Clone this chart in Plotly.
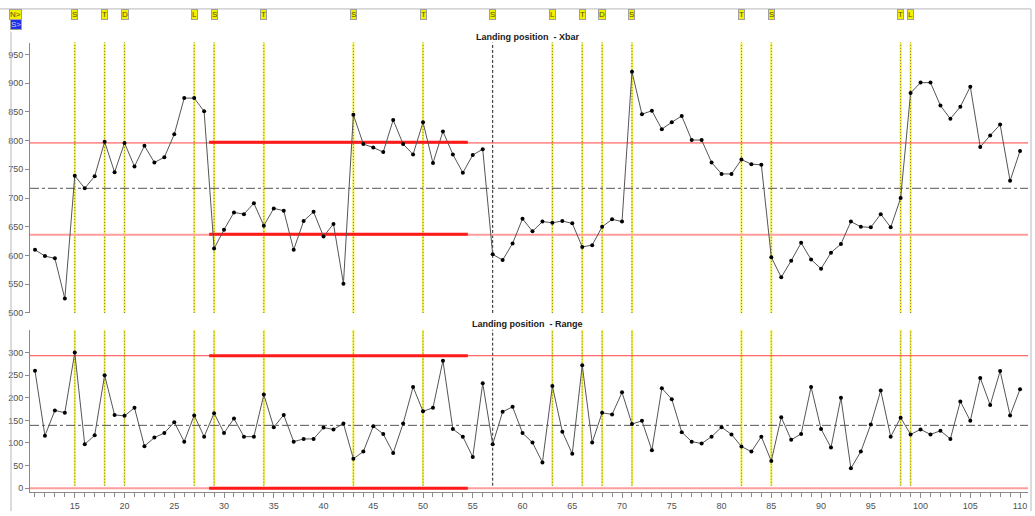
import plotly.graph_objects as go

W, H = 1035, 516

# ---------------- data ----------------
samples = list(range(11, 111))

xbar = [610, 599, 595, 525, 739, 717, 738, 798, 745, 796,
        755, 791, 762, 771, 811, 874, 874, 851, 612, 645,
        675, 672, 691, 652, 682, 678, 610, 660, 676, 633,
        655, 551, 845, 794, 788, 780, 836, 794, 776, 832,
        761, 816, 776, 744, 775, 785, 602, 592, 621, 664,
        642, 659, 657, 660, 656, 615, 618, 650, 663, 659,
        920, 846, 852, 820, 832, 843, 801, 801, 762, 742,
        742, 767, 759, 758, 597, 562, 591, 622, 593, 577,
        605, 620, 659, 650, 649, 672, 649, 700, 883, 901,
        901, 861, 838, 859, 894, 789, 809, 828, 730, 782]

rng = [260, 116, 172, 167, 300, 97, 117, 250, 162, 160,
       178, 93, 112, 122, 146, 103, 161, 114, 166, 122,
       154, 114, 114, 207, 135, 162, 103, 109, 109, 134,
       130, 143, 65, 81, 137, 120, 78, 143, 224, 170,
       178, 282, 131, 114, 69, 232, 97, 169, 180, 122,
       101, 57, 226, 125, 76, 272, 101, 167, 163, 212,
       142, 149, 84, 221, 197, 124, 103, 99, 114, 135,
       119, 92, 81, 114, 60, 157, 107, 120, 224, 131,
       90, 200, 44, 81, 141, 216, 114, 156, 119, 130,
       119, 127, 109, 192, 149, 244, 184, 259, 161, 219]

xbar_ucl, xbar_cl, xbar_lcl = 796, 717, 636
rng_ucl, rng_cl, rng_lcl = 293, 139, 0
# limits recalculated on a sub-range of samples
seg_start, seg_end = 28.5, 54.5
xbar_seg_ucl, xbar_seg_lcl = 797, 637
rng_seg_ucl, rng_seg_lcl = 293, 0

event_x = [15, 18, 20, 27, 29, 34, 43, 50, 57, 63, 66, 68, 71, 82, 85, 98, 99]
event_lbl = ['S', 'T', 'D', 'L', 'S', 'T', 'S', 'T', 'S', 'L', 'T', 'D', 'S', 'T', 'S', 'T', 'L']
black_events = [57]

x_ticks = list(range(15, 111, 5))
xbar_ticks = list(range(500, 951, 50))
rng_ticks = list(range(0, 301, 50))

xbar_title = "Landing position  - Xbar"
rng_title = "Landing position  - Range"

# ---------------- layout helpers ----------------
def px_x(p):
    return p / W

def px_y(p):
    return 1 - p / H

FONT = "Liberation Sans"
AX_COL = "#8a8a8a"
TXT_COL = "#505050"

fig = go.Figure()

line_style = dict(color="#555555", width=1)
marker_style = dict(color="black", size=4)

fig.add_trace(go.Scatter(x=samples, y=xbar, mode="lines+markers",
                         line=line_style, marker=marker_style,
                         xaxis="x", yaxis="y", showlegend=False))
fig.add_trace(go.Scatter(x=samples, y=rng, mode="lines+markers",
                         line=line_style, marker=marker_style,
                         xaxis="x2", yaxis="y2", showlegend=False))

shapes = []
XR = [10.5, 110.8]

def hline(xref, yref, y, color, width, dash="solid", x0=None, x1=None):
    shapes.append(dict(type="line", xref=xref, yref=yref,
                       x0=XR[0] if x0 is None else x0,
                       x1=XR[1] if x1 is None else x1,
                       y0=y, y1=y, line=dict(color=color, width=width, dash=dash),
                       layer="below"))

# Xbar limits
hline("x", "y", xbar_ucl, "#ff4040", 1)
hline("x", "y", xbar_cl, "#555555", 1, "dashdot")
hline("x", "y", xbar_lcl, "#ff9c9c", 2)
hline("x", "y", xbar_seg_ucl, "#ff1a1a", 3, x0=seg_start, x1=seg_end)
hline("x", "y", xbar_seg_lcl, "#ff1a1a", 3, x0=seg_start, x1=seg_end)
# Range limits
hline("x2", "y2", rng_ucl, "#ff4040", 1)
hline("x2", "y2", rng_cl, "#555555", 1, "dashdot")
hline("x2", "y2", rng_lcl, "#ff9c9c", 2)
hline("x2", "y2", rng_seg_ucl, "#ff1a1a", 3, x0=seg_start, x1=seg_end)
hline("x2", "y2", rng_seg_lcl, "#ff1a1a", 3, x0=seg_start, x1=seg_end)

# event lines
for ex in event_x:
    for xref, yref, y0, y1 in (("x", "y domain", 0, 1), ("x2", "y2 domain", 0.04, 1)):
        if ex in black_events:
            shapes.append(dict(type="line", xref=xref, yref=yref, x0=ex, x1=ex,
                               y0=y0, y1=y1, line=dict(color="#222222", width=1, dash="3px,2px"),
                               layer="below"))
        else:
            shapes.append(dict(type="line", xref=xref, yref=yref, x0=ex, x1=ex,
                               y0=y0, y1=y1, line=dict(color="#f4f040", width=2),
                               layer="below"))
            shapes.append(dict(type="line", xref=xref, yref=yref, x0=ex, x1=ex,
                               y0=y0, y1=y1, line=dict(color="#7a7a30", width=1, dash="1px,2px"),
                               layer="below"))

# window frame
frame_col = "#b8b8b8"
shapes.append(dict(type="line", xref="paper", yref="paper", x0=0, x1=px_x(1031),
                   y0=px_y(9), y1=px_y(9), line=dict(color=frame_col, width=1)))
shapes.append(dict(type="line", xref="paper", yref="paper", x0=px_x(11), x1=px_x(11),
                   y0=px_y(32), y1=0, line=dict(color=frame_col, width=1)))
shapes.append(dict(type="line", xref="paper", yref="paper", x0=px_x(1031), x1=px_x(1031),
                   y0=px_y(9), y1=0, line=dict(color=frame_col, width=1)))

annotations = []
# event labels
for ex, lb in zip(event_x, event_lbl):
    annotations.append(dict(x=ex, xref="x", y=px_y(15), yref="paper", text=lb,
                            showarrow=False, font=dict(family=FONT, size=8, color="#505000"),
                            bgcolor="#f0f000", bordercolor="#a0a0a0", borderwidth=1,
                            borderpad=0, xanchor="center", yanchor="middle"))
annotations.append(dict(x=px_x(15.5), xref="paper", y=px_y(15), yref="paper", text="N>",
                        showarrow=False, font=dict(family=FONT, size=8, color="#505000"),
                        bgcolor="#f0f000", bordercolor="#a0a0a0", borderwidth=1,
                        borderpad=0, xanchor="center", yanchor="middle"))
annotations.append(dict(x=px_x(15.5), xref="paper", y=px_y(25), yref="paper", text="S>",
                        showarrow=False, font=dict(family=FONT, size=8, color="#c0d0ff"),
                        bgcolor="#2030e0", bordercolor="#a0a0a0", borderwidth=1,
                        borderpad=0, xanchor="center", yanchor="middle"))
# panel titles
annotations.append(dict(x=px_x(527), xref="paper", y=px_y(37), yref="paper",
                        text="<b>" + xbar_title + "</b>", showarrow=False,
                        font=dict(family=FONT, size=9, color="#202020"),
                        xanchor="center", yanchor="middle"))
annotations.append(dict(x=px_x(527), xref="paper", y=px_y(327), yref="paper",
                        text="<b>" + rng_title + "</b>", showarrow=False,
                        font=dict(family=FONT, size=9, color="#202020"),
                        xanchor="center", yanchor="middle"))

yax_common = dict(showgrid=False, zeroline=False, showline=True, linecolor=AX_COL,
                  linewidth=1, ticks="outside", ticklen=4, tickcolor=AX_COL,
                  tickfont=dict(family=FONT, size=9, color=TXT_COL))

fig.update_layout(
    width=W, height=H,
    margin=dict(l=0, r=0, t=0, b=0),
    paper_bgcolor="white", plot_bgcolor="white",
    showlegend=False,
    shapes=shapes, annotations=annotations,
    xaxis=dict(domain=[px_x(30), px_x(1028)], range=XR, showgrid=False, zeroline=False,
               showline=False, showticklabels=False, ticks="", anchor="y"),
    yaxis=dict(domain=[px_y(316), px_y(43)], range=[500, 970.7], tickvals=xbar_ticks,
               anchor="x", **yax_common),
    xaxis2=dict(domain=[px_x(30), px_x(1028)], range=XR, showgrid=False, zeroline=False,
                showline=True, linecolor=AX_COL, linewidth=1,
                ticks="outside", ticklen=5, tickcolor=AX_COL, tickvals=x_ticks,
                tickfont=dict(family=FONT, size=9, color=TXT_COL),
                minor=dict(ticks="outside", ticklen=4, dtick=1, tick0=0, tickcolor=AX_COL),
                anchor="y2"),
    yaxis2=dict(domain=[px_y(497), px_y(333)], range=[-8.8, 350.4], tickvals=rng_ticks,
                anchor="x2", **yax_common),
)

fig.write_html("out.html", config={"displayModeBar": False},
               post_script="document.body.style.margin='0';document.body.style.overflow='hidden';")
